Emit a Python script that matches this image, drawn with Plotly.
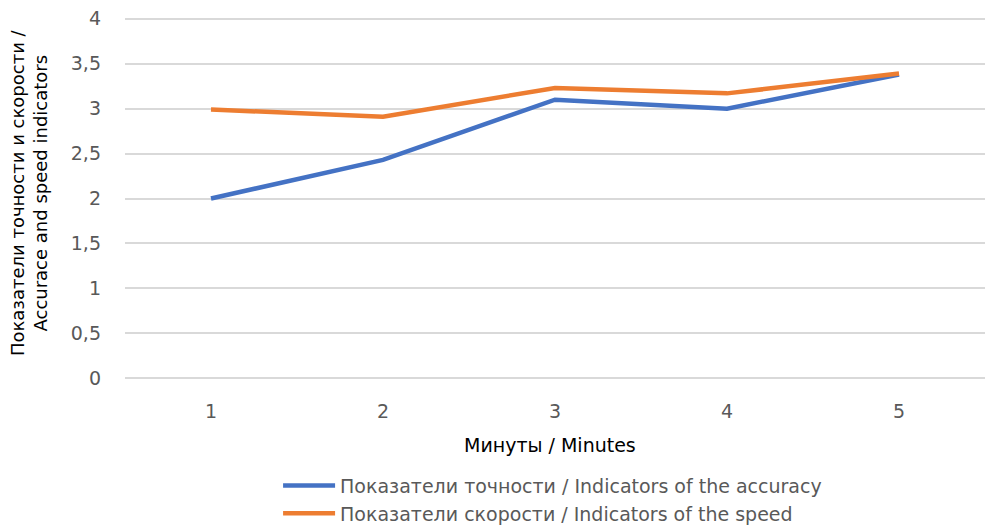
import plotly.graph_objects as go

minutes = ["1", "2", "3", "4", "5"]
accuracy = [2.0, 2.43, 3.10, 3.0, 3.38]
speed = [2.99, 2.91, 3.23, 3.17, 3.39]

grey = "#595959"
fnt = "DejaVu Sans, Arial, sans-serif"
fig = go.Figure()

fig.add_trace(go.Scatter(x=minutes, y=accuracy, mode="lines",
                         name="Показатели точности / Indicators of the accuracy",
                         line=dict(color="#4472C4", width=4.5)))
fig.add_trace(go.Scatter(x=minutes, y=speed, mode="lines",
                         name="Показатели скорости / Indicators of the speed",
                         line=dict(color="#ED7D31", width=4.5)))

# axis titles as annotations so they sit where the reference has them
fig.add_annotation(text="Показатели точности и скорости /<br>Accurace and speed indicators",
                   xref="paper", yref="paper", x=-0.1116, y=0.515, textangle=-90,
                   xanchor="center", yanchor="middle", showarrow=False,
                   font=dict(family=fnt, size=18, color="black"))
fig.add_annotation(text="Минуты / Minutes", xref="paper", yref="paper",
                   x=0.494, y=-0.178, xanchor="center", yanchor="middle",
                   showarrow=False, font=dict(family=fnt, size=19, color="black"))

fig.update_layout(
    width=985, height=525,
    margin=dict(l=125, r=0, t=17, b=145, autoexpand=False),
    plot_bgcolor="white", paper_bgcolor="white",
    separators=", ",
    font=dict(family=fnt, size=18, color=grey),
    xaxis=dict(type="category", range=[-0.5, 4.5], showgrid=False, showline=False,
               zeroline=False, ticks="", ticklabelstandoff=18, automargin=False,
               tickfont=dict(size=19, color=grey)),
    yaxis=dict(range=[-0.02, 4.02], tickvals=[0, 0.5, 1, 1.5, 2, 2.5, 3, 3.5, 4],
               showgrid=True, gridcolor="#D9D9D9", gridwidth=1.5, zeroline=False,
               showline=False, ticks="", ticklabelstandoff=23, automargin=False,
               tickfont=dict(size=19, color=grey)),
    legend=dict(orientation="v", x=0.178, xanchor="left", y=-0.239, yanchor="top",
                font=dict(family=fnt, size=19, color=grey), itemwidth=52,
                tracegroupgap=0, bgcolor="rgba(0,0,0,0)"),
    showlegend=True,
)

fig.write_html("out.html", config={"displayModeBar": False},
               post_script="document.body.style.margin='0';")
